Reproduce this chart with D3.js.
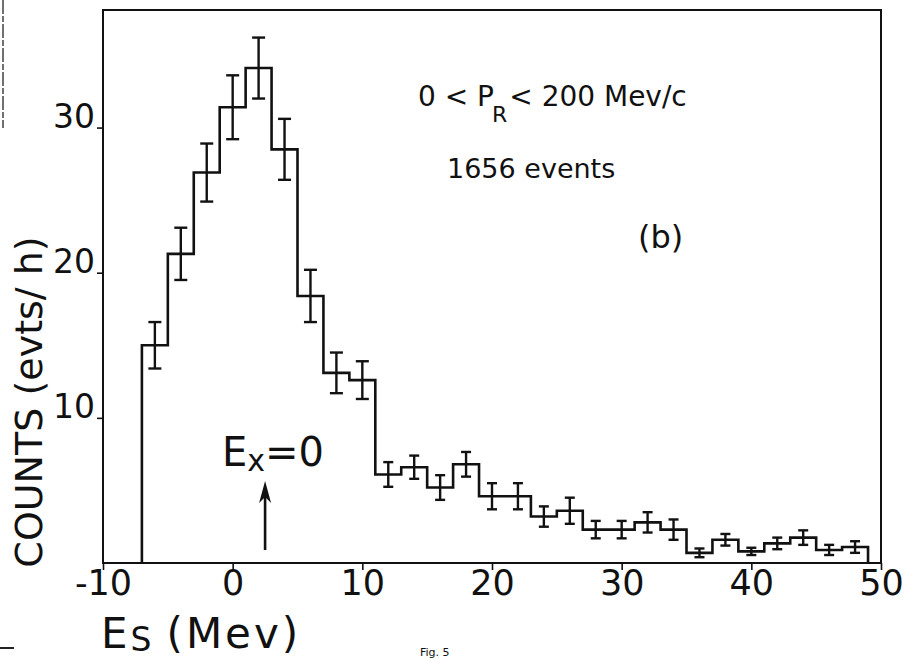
<!DOCTYPE html>
<html>
<head>
<meta charset="utf-8">
<script src="https://cdn.jsdelivr.net/npm/d3@7"></script>
<style>
  html, body { margin: 0; padding: 0; background: #fff; }
  svg { display: block; }
  text { fill: #111; font-family: "DejaVu Sans", sans-serif; }
</style>
</head>
<body>
<svg id="chart" width="909" height="658"></svg>
<script>
// Energy histogram: counts per 2 MeV bin of the separation energy Es
const binStarts = [-7, -5, -3, -1, 1, 3, 5, 7, 9, 11, 13, 15, 17, 19, 21, 23, 25, 27, 29, 31, 33, 35, 37, 39, 41, 43, 45, 47];
const counts    = [15.0, 21.3, 26.9, 31.4, 34.1, 28.5, 18.4, 13.1, 12.6, 6.1, 6.6, 5.2, 6.8, 4.6, 4.6, 3.2, 3.6, 2.3, 2.3, 2.8, 2.3, 0.7, 1.6, 0.8, 1.35, 1.75, 0.9, 1.1];
const errors    = [1.6, 1.8, 2.0, 2.2, 2.1, 2.1, 1.8, 1.4, 1.3, 0.85, 0.8, 0.85, 0.85, 0.9, 0.9, 0.7, 0.9, 0.6, 0.6, 0.7, 0.7, 0.3, 0.4, 0.25, 0.4, 0.5, 0.35, 0.4];
const binWidth = 2;

const xTicks = [-10, 0, 10, 20, 30, 40, 50];
const xTickLabels = ["-10", "0", "10", "20", "30", "40", "50"];
const yTicks = [10, 20, 30];
const yTickLabels = ["10", "20", "30"];

const xDomain = [-10, 50];
const yDomain = [0, 38.1];
const arrowAt = 2.5;          // Ex = 0 marker position on the Es axis

const svg = d3.select("#chart");
const ink = "#111";

const x = d3.scaleLinear().domain(xDomain).range([103, 881]);
const y = d3.scaleLinear().domain(yDomain).range([563, 10]);

// Frame
svg.append("rect")
  .attr("x", x(xDomain[0])).attr("y", y(yDomain[1]))
  .attr("width", x(xDomain[1]) - x(xDomain[0]))
  .attr("height", y(yDomain[0]) - y(yDomain[1]))
  .attr("fill", "none").attr("stroke", ink).attr("stroke-width", 2);

// Axes
const xAxis = d3.axisBottom(x).tickValues(xTicks)
  .tickFormat((d, i) => xTickLabels[i]).tickSize(7).tickSizeOuter(0);
const gx = svg.append("g").attr("transform", `translate(0,${y(0)})`).call(xAxis);
gx.select(".domain").remove();
gx.selectAll(".tick line").attr("stroke", ink).attr("stroke-width", 1.6);
gx.selectAll(".tick text").attr("font-size", 35).attr("y", 7)
  .attr("font-family", "DejaVu Sans, sans-serif").attr("fill", ink);

const yAxis = d3.axisLeft(y).tickValues(yTicks)
  .tickFormat((d, i) => yTickLabels[i]).tickSize(6).tickSizeOuter(0);
const gy = svg.append("g").attr("transform", `translate(${x(xDomain[0])},0)`).call(yAxis);
gy.select(".domain").remove();
gy.selectAll(".tick line").attr("stroke", ink).attr("stroke-width", 1.6);
gy.selectAll(".tick text").attr("font-size", 33).attr("x", -8).attr("dy", "0")
  .attr("font-family", "DejaVu Sans, sans-serif").attr("fill", ink);

// Histogram outline
const pts = [[binStarts[0], 0]];
binStarts.forEach((b, i) => { pts.push([b, counts[i]]); pts.push([b + binWidth, counts[i]]); });
pts.push([binStarts[binStarts.length - 1] + binWidth, 0]);
const line = d3.line().x(d => x(d[0])).y(d => y(d[1]));
svg.append("path").attr("d", line(pts))
  .attr("fill", "none").attr("stroke", ink).attr("stroke-width", 2.6)
  .attr("stroke-linejoin", "miter");

// Error bars
const eb = svg.append("g").attr("stroke", ink).attr("stroke-width", 2.4);
binStarts.forEach((b, i) => {
  const cx = x(b + binWidth / 2);
  const capW = counts[i] > 10 ? 6.5 : 5;
  const yHi = y(counts[i] + errors[i]), yLo = y(counts[i] - errors[i]);
  eb.append("line").attr("x1", cx).attr("x2", cx).attr("y1", yHi).attr("y2", yLo);
  eb.append("line").attr("x1", cx - capW).attr("x2", cx + capW).attr("y1", yHi).attr("y2", yHi);
  eb.append("line").attr("x1", cx - capW).attr("x2", cx + capW).attr("y1", yLo).attr("y2", yLo);
});

// Ex = 0 arrow
const ax = x(arrowAt);
svg.append("line").attr("x1", ax).attr("x2", ax).attr("y1", 550).attr("y2", 490)
  .attr("stroke", ink).attr("stroke-width", 2.6);
svg.append("path")
  .attr("d", `M${ax},481 L${ax - 6},503 L${ax},497 L${ax + 6},503 Z`)
  .attr("fill", ink);
const ex = svg.append("text").attr("x", 222).attr("y", 466).attr("font-size", 40);
ex.append("tspan").text("E");
ex.append("tspan").attr("font-size", 30).attr("dy", 5).text("x");
ex.append("tspan").attr("dy", -5).text("=0");

// Annotations
const t1 = svg.append("text").attr("x", 418).attr("y", 106).attr("font-size", 28);
t1.append("tspan").text("0 < P");
t1.append("tspan").attr("font-size", 22).attr("dy", 16).attr("dx", -2).text("R");
t1.append("tspan").attr("dy", -16).attr("dx", 2).text("< 200 Mev/c");

svg.append("text").attr("x", 447).attr("y", 178).attr("font-size", 27).text("1656 events");
svg.append("text").attr("x", 638).attr("y", 248).attr("font-size", 32).text("(b)");

// Axis titles
const xt = svg.append("text").attr("x", 101).attr("y", 648).attr("font-size", 42)
  .attr("letter-spacing", 3);
xt.append("tspan").text("E");
xt.append("tspan").attr("font-size", 33).attr("dy", 3).text("S");
xt.append("tspan").attr("dy", -3).attr("dx", 12).text("(Mev)");

svg.append("text")
  .attr("transform", "translate(42,402) rotate(-90)")
  .attr("text-anchor", "middle").attr("font-size", 38)
  .text("COUNTS (evts/ h)");

svg.append("text").attr("x", 420).attr("y", 656)
  .attr("font-family", "Liberation Mono, monospace").attr("font-size", 11)
  .text("Fig.  5");

// Page edge marks
svg.append("line").attr("x1", 3).attr("x2", 3).attr("y1", 0).attr("y2", 128)
  .attr("stroke", "#333").attr("stroke-width", 1.4).attr("stroke-dasharray", "14 2 6 2");
svg.append("line").attr("x1", 0).attr("x2", 14).attr("y1", 648).attr("y2", 648)
  .attr("stroke", "#222").attr("stroke-width", 2);
</script>
</body>
</html>
